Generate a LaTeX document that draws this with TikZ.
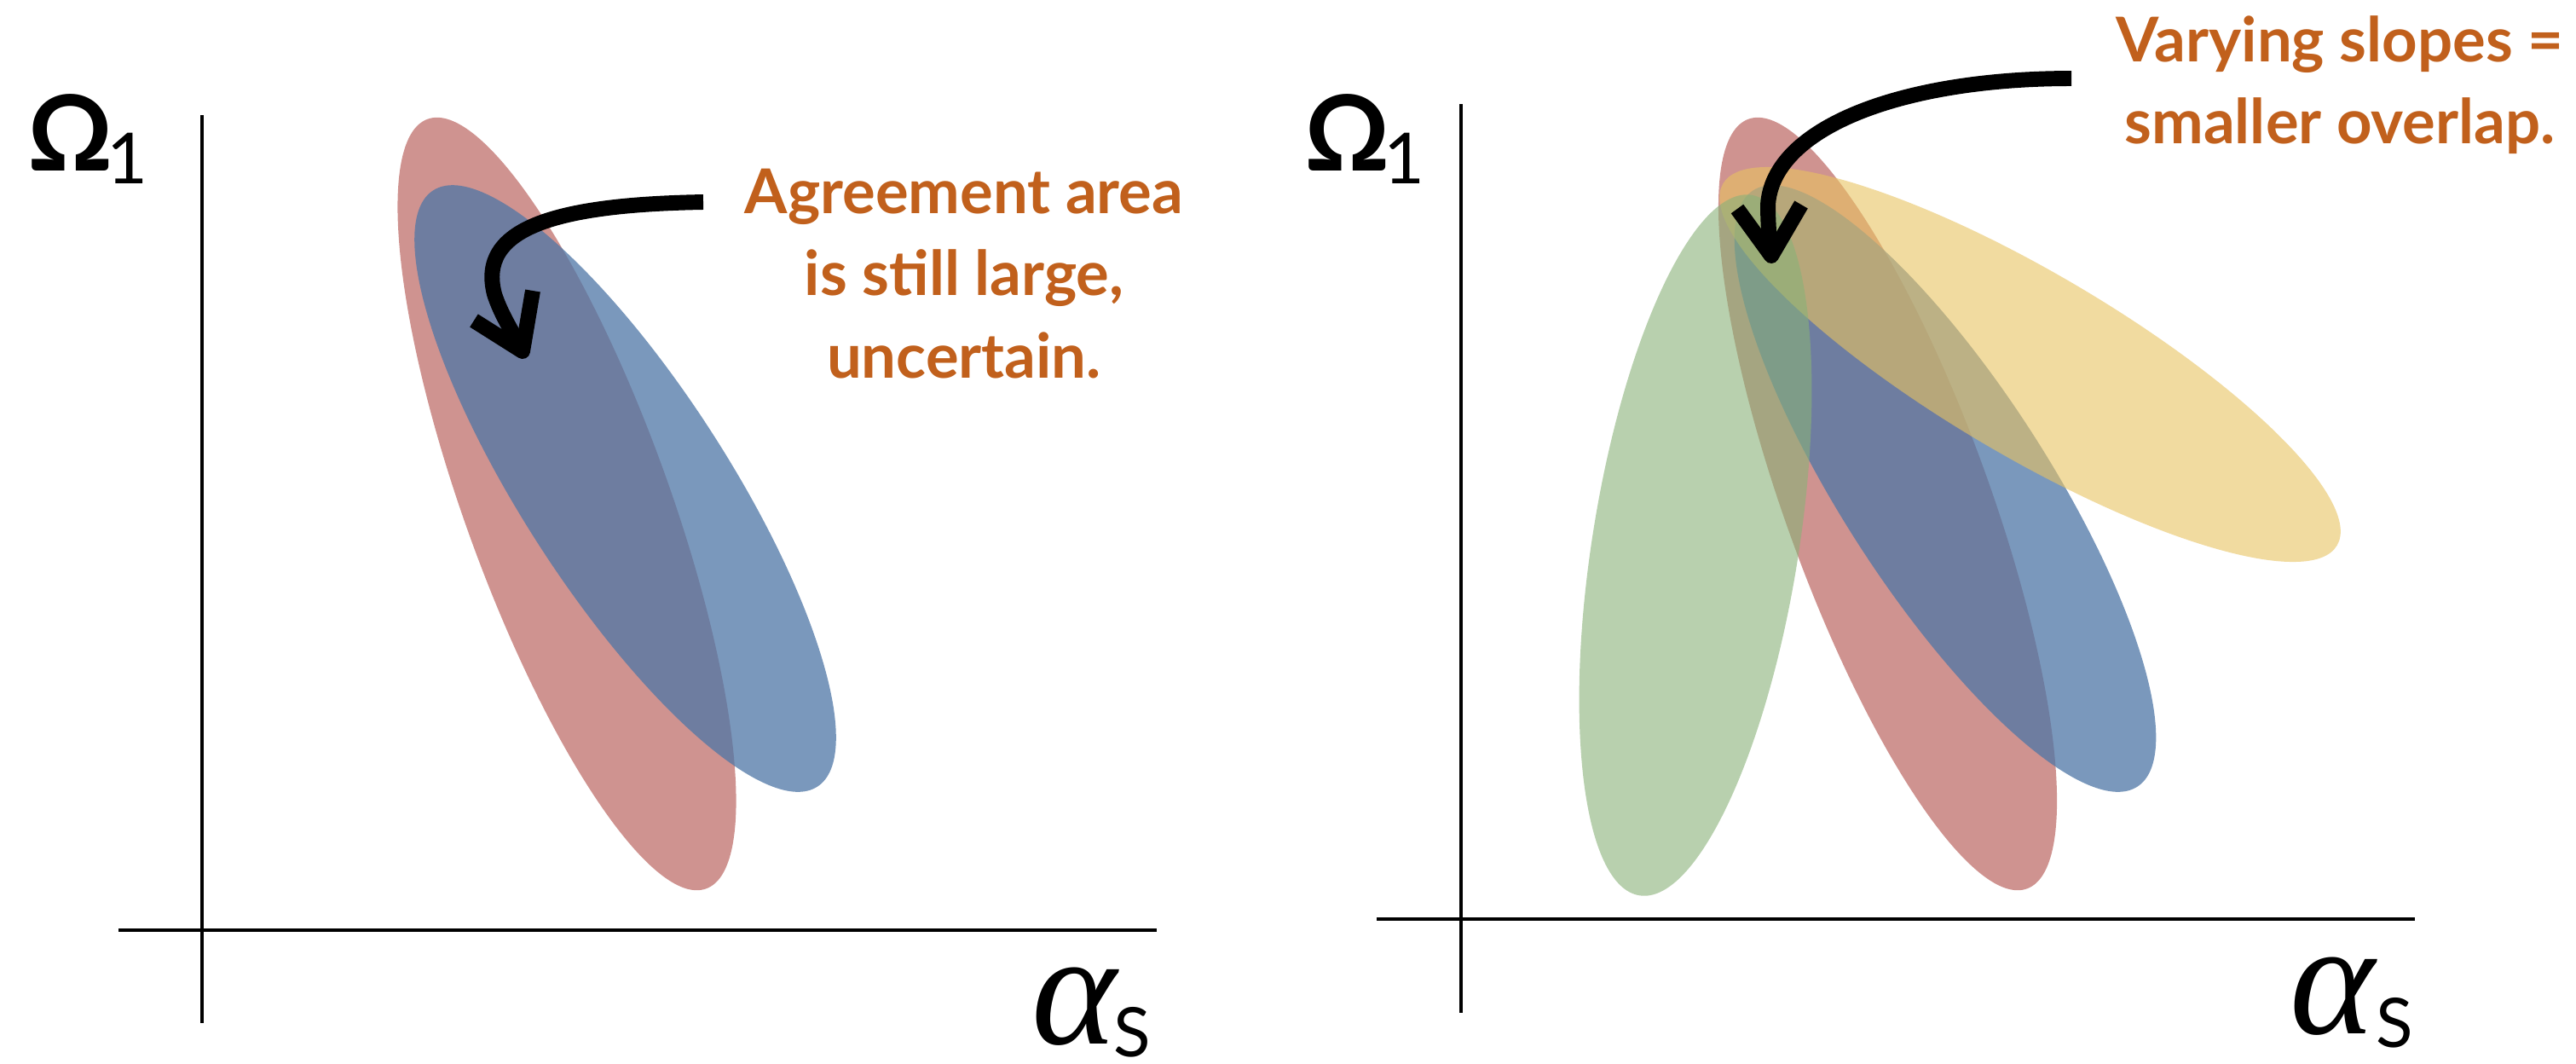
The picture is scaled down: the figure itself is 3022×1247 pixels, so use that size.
\documentclass[tikz,border=0pt]{standalone}
\usepackage{fontspec}
\setmainfont{Lato}
\newfontfamily\greekserif{Liberation Serif}
\definecolor{notecol}{RGB}{193,96,28}
\definecolor{redc}{RGB}{192,112,107}
\definecolor{bluec}{RGB}{78,118,166}
\definecolor{yellowc}{RGB}{232,195,97}
\definecolor{greenc}{RGB}{137,178,120}
\begin{document}
\begin{tikzpicture}[x=0.01cm,y=0.01cm,
  axisline/.style={line width=1pt, black},
  redell/.style={fill=redc, fill opacity=0.75},
  blueell/.style={fill=bluec, fill opacity=0.75},
  yellowell/.style={fill=yellowc, fill opacity=0.6},
  greenell/.style={fill=greenc, fill opacity=0.6},
  note/.style={text=notecol, inner sep=0pt, anchor=base, font=\bfseries\fontsize{20.6}{27.46}\selectfont},
  omlabel/.style={inner sep=0pt, anchor=base west, font=\bfseries\fontsize{35}{40}\selectfont},
  alabel/.style={inner sep=0pt, anchor=base, font=\greekserif\itshape\fontsize{54}{58}\selectfont},
  slabel/.style={inner sep=0pt, anchor=base, font=\fontsize{22.8}{26}\selectfont},
  shaft/.style={line width=5.1pt, black},
  barbs/.style={line width=5.1pt, black, line join=round}
]
\useasboundingbox (0,0) rectangle (3022,-1247);
\fill[white] (0,0) rectangle (3022,-1247);

% ---------- left panel ----------
\draw[axisline] (237,-135) -- (237,-1200);
\draw[axisline] (139,-1091) -- (1357,-1091);
\fill[redell, shift={(665,-591)}, rotate=-70.1] (0,0) ellipse [x radius=480, y radius=120];
\fill[blueell, shift={(733.5,-573)}, rotate=-57.2] (0,0) ellipse [x radius=416, y radius=121];

\node[omlabel] (omL) at (32,-200) {Ω\hspace{-2.2pt}\raisebox{-4.27pt}{\mdseries\fontsize{23.5}{28}\selectfont 1}};
\node[alabel] (alL) at (1260,-1224) {α};
\node[slabel] (sL) at (1328,-1239) {S};

\node[note] (noteL) at (1131,-250) {\begin{tabular}[t]{@{}c@{}}Agreement area\\ is still large,\\ uncertain.\end{tabular}};

\coordinate (la0) at (825,-237);
\coordinate (la1) at (580,-345);
\coordinate (latip) at (613,-412);
\coordinate (lab1) at (556,-376);
\coordinate (lab2) at (625,-341);
\draw[shaft] (la0) .. controls (650,-240) and (560,-268) .. (la1)
  .. controls (588,-370) and (603,-392) .. (latip);
\draw[barbs] (lab1) -- (latip) -- (lab2);

% ---------- right panel ----------
\draw[axisline] (1714,-122) -- (1714,-1188);
\draw[axisline] (1615,-1078) -- (2833,-1078);
\fill[redell, shift={(2214.5,-591)}, rotate=-70.1] (0,0) ellipse [x radius=480, y radius=120];
\fill[blueell, shift={(2282,-573)}, rotate=-57.2] (0,0) ellipse [x radius=416, y radius=121];
\fill[yellowell, shift={(2381.5,-427.5)}, rotate=-30.5] (0,0) ellipse [x radius=418, y radius=107.5];
\fill[greenell, shift={(1989,-639.5)}, rotate=80.9] (0,0) ellipse [x radius=416, y radius=121];

\node[omlabel] (omR) at (1530,-200) {Ω\hspace{-2.2pt}\raisebox{-4.27pt}{\mdseries\fontsize{23.5}{28}\selectfont 1}};
\node[alabel] (alR) at (2736,-1212) {α};
\node[slabel] (sR) at (2809,-1228) {S};

\node[note] (noteR) at (2745,-72) {\begin{tabular}[t]{@{}c@{}}Varying slopes =\\ smaller overlap.\end{tabular}};

\coordinate (ra0) at (2430,-92);
\coordinate (ra1) at (2074,-240);
\coordinate (ratip) at (2078,-300);
\coordinate (rab1) at (2038,-245);
\coordinate (rab2) at (2113,-240);
\draw[shaft] (ra0) .. controls (2230,-92) and (2080,-150) .. (ra1)
  .. controls (2074,-265) and (2076,-285) .. (ratip);
\draw[barbs] (rab1) -- (ratip) -- (rab2);
\end{tikzpicture}
\end{document}
